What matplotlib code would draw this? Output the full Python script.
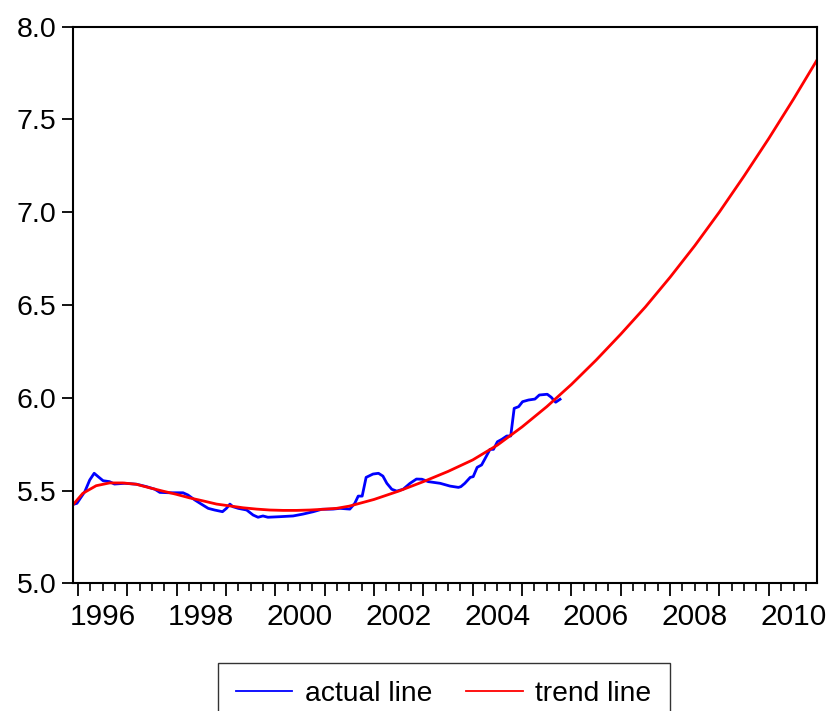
import numpy as np
import matplotlib
matplotlib.use('Agg')
import matplotlib.pyplot as plt
from matplotlib.ticker import FixedLocator, FuncFormatter, NullFormatter

plt.rcParams['font.family'] = ['Liberation Sans', 'DejaVu Sans']

# actual series (decimal year, value)
actual_year = [1995.91, 1995.98, 1996.14, 1996.24, 1996.33, 1996.41, 1996.51, 1996.64,
               1996.74, 1996.95, 1997.19, 1997.39, 1997.56, 1997.66, 1997.86, 1998.13,
               1998.23, 1998.37, 1998.50, 1998.64, 1998.77, 1998.93, 1999.01, 1999.08,
               1999.14, 1999.25, 1999.42, 1999.55, 1999.65, 1999.75, 1999.85, 2000.09,
               2000.36, 2000.56, 2000.77, 2000.94, 2001.17, 2001.31, 2001.51, 2001.61,
               2001.68, 2001.76, 2001.84, 2001.98, 2002.09, 2002.18, 2002.26, 2002.36,
               2002.46, 2002.59, 2002.73, 2002.86, 2002.97, 2003.10, 2003.34, 2003.54,
               2003.71, 2003.76, 2003.84, 2003.95, 2004.01, 2004.09, 2004.18, 2004.27,
               2004.35, 2004.42, 2004.50, 2004.59, 2004.69, 2004.77, 2004.84, 2004.93,
               2005.01, 2005.13, 2005.26, 2005.35, 2005.51, 2005.59, 2005.68, 2005.77]
actual_value = [5.426, 5.431, 5.494, 5.557, 5.593, 5.575, 5.553, 5.548,
                5.535, 5.539, 5.534, 5.521, 5.507, 5.490, 5.488, 5.488,
                5.476, 5.449, 5.427, 5.404, 5.395, 5.386, 5.404, 5.427,
                5.413, 5.404, 5.395, 5.368, 5.356, 5.363, 5.356, 5.359,
                5.363, 5.373, 5.386, 5.399, 5.400, 5.404, 5.400, 5.431,
                5.470, 5.470, 5.571, 5.589, 5.593, 5.578, 5.539, 5.507,
                5.497, 5.507, 5.539, 5.562, 5.561, 5.548, 5.539, 5.524,
                5.517, 5.521, 5.539, 5.571, 5.575, 5.625, 5.638, 5.682,
                5.722, 5.722, 5.763, 5.776, 5.794, 5.794, 5.943, 5.952,
                5.979, 5.988, 5.993, 6.015, 6.019, 6.003, 5.976, 5.992]

# trend series
trend_year = [1995.91, 1996.10, 1996.37, 1996.64, 1996.91, 1997.18, 1997.45, 1997.72,
              1997.99, 1998.27, 1998.54, 1998.81, 1999.08, 1999.35, 1999.62, 1999.89,
              2000.16, 2000.43, 2000.70, 2000.97, 2001.24, 2001.50, 2002.00, 2002.50,
              2003.00, 2003.50, 2004.00, 2004.50, 2005.00, 2005.50, 2006.00, 2006.50,
              2007.00, 2007.50, 2008.00, 2008.50, 2009.00, 2009.50, 2010.00, 2010.50,
              2010.97]
trend_value = [5.426, 5.485, 5.526, 5.541, 5.541, 5.534, 5.515, 5.497,
               5.480, 5.460, 5.444, 5.427, 5.417, 5.407, 5.400, 5.395,
               5.393, 5.393, 5.395, 5.399, 5.404, 5.416, 5.452, 5.497,
               5.548, 5.603, 5.665, 5.745, 5.843, 5.952, 6.072, 6.203,
               6.343, 6.490, 6.650, 6.820, 7.002, 7.196, 7.398, 7.610,
               7.818]

label_years = [1996, 1998, 2000, 2002, 2004, 2006, 2008, 2010]

fig = plt.figure(figsize=(8.31, 7.11), dpi=100)
ax = fig.add_axes([0.0878, 0.1796, 0.8950, 0.7828])

ax.plot(actual_year, actual_value, color='blue', lw=2.0, label='actual line')
ax.plot(trend_year, trend_value, color='red', lw=2.0, label='trend line')

ax.set_xlim(1995.9, 2010.97)
ax.set_ylim(5.0, 8.0)
ax.set_yticks(np.arange(5.0, 8.01, 0.5))
ax.yaxis.set_major_formatter(FuncFormatter(lambda v, p: f'{v:.1f}'))

ax.xaxis.set_major_locator(FixedLocator(range(1996, 2011)))
ax.xaxis.set_major_formatter(NullFormatter())
quarters = [y + q for y in range(1995, 2011) for q in (0.25, 0.5, 0.75)]
ax.xaxis.set_minor_locator(FixedLocator(quarters))


def year_label(v, p):
    y = int(np.floor(v))
    if abs(v - y - 0.5) < 1e-6 and y in label_years:
        return str(y)
    return ''


ax.xaxis.set_minor_formatter(FuncFormatter(year_label))

ax.tick_params(axis='x', which='major', direction='out', length=9.5, width=1.3)
ax.tick_params(axis='x', which='minor', direction='out', length=6, width=1.2,
               labelsize=21.5, pad=8)
ax.tick_params(axis='y', direction='out', length=8, width=1.3, labelsize=20.5, pad=4)

for s in ax.spines.values():
    s.set_linewidth(1.5)

leg = fig.legend(loc='upper center', bbox_to_anchor=(0.534, 0.0675), ncol=2,
                 frameon=True, fancybox=False, edgecolor='black', fontsize=20.3,
                 handlelength=2.0, handletextpad=0.45, columnspacing=1.2,
                 borderpad=0.65, borderaxespad=0)
leg.get_frame().set_linewidth(1.0)
for line in leg.get_lines():
    line.set_linewidth(1.3)

fig.savefig('out.png', dpi=100)
